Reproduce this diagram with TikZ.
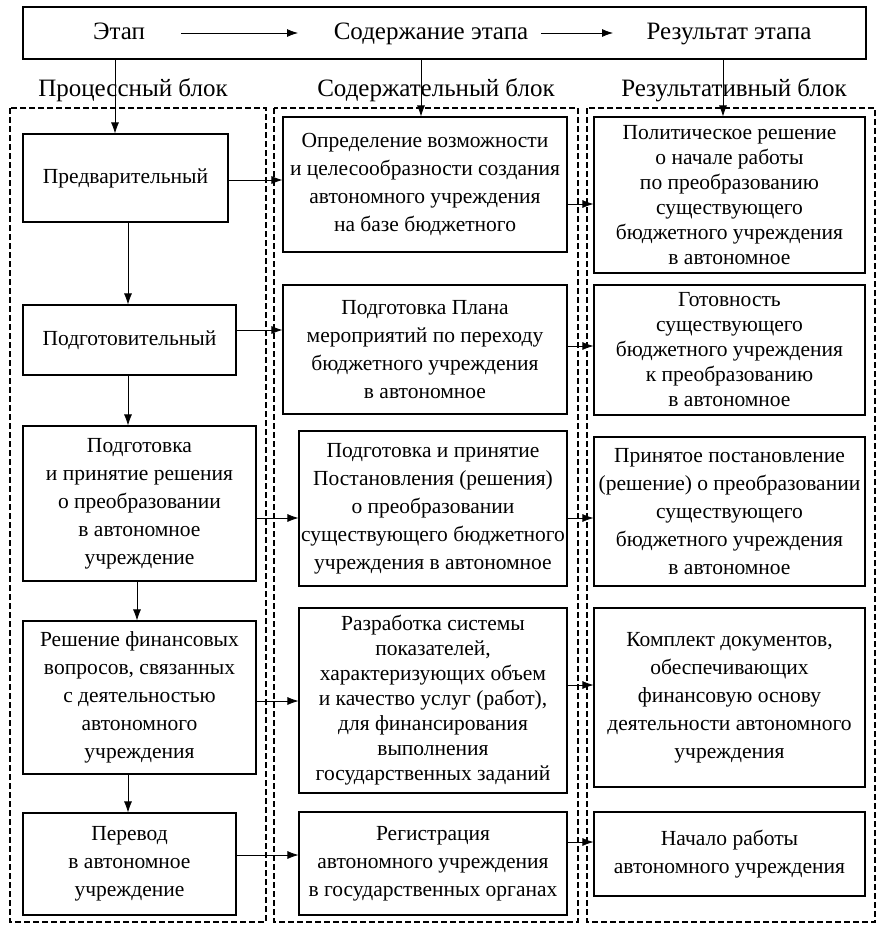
\documentclass[tikz,border=0pt]{standalone}
\usepackage{fontspec}
\setmainfont{Liberation Serif}
\usetikzlibrary{arrows.meta}
\begin{document}
\begin{tikzpicture}[x=1pt,y=-1pt,
  bx/.style={draw, line width=1.1pt, inner sep=0pt, align=center, font=\fontsize{21.5}{28}\selectfont},
  tight/.style={font=\fontsize{21.5}{25}\selectfont},
  toptext/.style={inner sep=0pt, font=\fontsize{25}{30}\selectfont},
  arr/.style={line width=0.75pt, -{Latex[length=11pt,width=8pt]}},
  cont/.style={draw, line width=1.3pt, dash pattern=on 6pt off 3pt}]
\useasboundingbox (0,0) rectangle (881,930);

% top bar
\node[draw, line width=1.1pt, minimum width=843pt, minimum height=52pt, inner sep=0pt] (top) at (444.5,33) {};
\node[toptext, anchor=base] (t1) at (119,39) {Этап};
\node[toptext, anchor=base] (t2) at (431,39) {Содержание этапа};
\node[toptext, anchor=base] (t3) at (729,39) {Результат этапа};
\coordinate (a1s) at (181,33);
\coordinate (a1e) at (298,33);
\coordinate (a2s) at (541,33);
\coordinate (a2e) at (613,33);
\draw[arr] (a1s) -- (a1e);
\draw[arr] (a2s) -- (a2e);

% block labels
\node[toptext] (lb1) at (133,90) {Процессный блок};
\node[toptext] (lb2) at (436,90) {Содержательный блок};
\node[toptext] (lb3) at (734,90) {Результативный блок};

% dashed containers
\draw[cont] (10,108) rectangle (266,922);
\draw[cont] (274,108) rectangle (578,922);
\draw[cont] (587,108) rectangle (875,922);

% left column
\node[bx, minimum width=205pt, minimum height=88pt] (l1) at (125.5,178) {Предварительный};
\node[bx, minimum width=213pt, minimum height=70pt] (l2) at (129.5,340) {Подготовительный};
\node[bx, minimum width=233pt, minimum height=155pt] (l3) at (139.5,503.5) {Подготовка\\и принятие решения\\о преобразовании\\в автономное\\учреждение};
\node[bx, minimum width=233pt, minimum height=153pt] (l4) at (139.5,697.5) {Решение финансовых\\вопросов, связанных\\с деятельностью\\автономного\\учреждения};
\node[bx, minimum width=213pt, minimum height=102pt] (l5) at (129.5,864) {Перевод\\в автономное\\учреждение};

% middle column
\node[bx, minimum width=284pt, minimum height=135pt] (m1) at (425,184.5) {Определение возможности\\и целесообразности создания\\автономного учреждения\\на базе бюджетного};
\node[bx, minimum width=284pt, minimum height=129pt] (m2) at (425,349.5) {Подготовка Плана\\мероприятий по переходу\\бюджетного учреждения\\в автономное};
\node[bx, minimum width=268pt, minimum height=155pt] (m3) at (433,508.5) {Подготовка и принятие\\Постановления (решения)\\о преобразовании\\существующего бюджетного\\учреждения в автономное};
\node[bx, tight, minimum width=268pt, minimum height=185pt] (m4) at (433,700.5) {Разработка системы\\показателей,\\характеризующих объем\\и качество услуг (работ),\\для финансирования\\выполнения\\государственных заданий};
\node[bx, minimum width=268pt, minimum height=103pt] (m5) at (433,863.5) {Регистрация\\автономного учреждения\\в государственных органах};

% right column
\node[bx, tight, minimum width=271pt, minimum height=156pt] (r1) at (729.5,195) {Политическое решение\\о начале работы\\по преобразованию\\существующего\\бюджетного учреждения\\в автономное};
\node[bx, tight, minimum width=271pt, minimum height=130pt] (r2) at (729.5,350) {Готовность\\существующего\\бюджетного учреждения\\к преобразованию\\в автономное};
\node[bx, minimum width=271pt, minimum height=149pt] (r3) at (729.5,511.5) {Принятое постановление\\(решение) о преобразовании\\существующего\\бюджетного учреждения\\в автономное};
\node[bx, minimum width=271pt, minimum height=179pt] (r4) at (729.5,697.5) {Комплект документов,\\обеспечивающих\\финансовую основу\\деятельности автономного\\учреждения};
\node[bx, minimum width=271pt, minimum height=84pt] (r5) at (729.5,854) {Начало работы\\автономного учреждения};

% vertical arrows from top bar
\coordinate (vx1) at (115,0);
\coordinate (vx2) at (421,0);
\coordinate (vx3) at (723,0);
\draw[arr] (top.south -| vx1) -- (l1.north -| vx1);
\draw[arr] (top.south -| vx2) -- (m1.north -| vx2);
\draw[arr] (top.south -| vx3) -- (r1.north -| vx3);

% left column vertical arrows
\coordinate (cx1) at (128,0);
\coordinate (cx2) at (137,0);
\draw[arr] (l1.south -| cx1) -- (l2.north -| cx1);
\draw[arr] (l2.south -| cx1) -- (l3.north -| cx1);
\draw[arr] (l3.south -| cx2) -- (l4.north -| cx2);
\draw[arr] (l4.south -| cx1) -- (l5.north -| cx1);

% left -> middle
\coordinate (h1) at (0,180);
\coordinate (h2) at (0,330);
\coordinate (h3) at (0,518);
\coordinate (h4) at (0,701);
\coordinate (h5) at (0,855);
\draw[arr] (l1.east |- h1) -- (m1.west |- h1);
\draw[arr] (l2.east |- h2) -- (m2.west |- h2);
\draw[arr] (l3.east |- h3) -- (m3.west |- h3);
\draw[arr] (l4.east |- h4) -- (m4.west |- h4);
\draw[arr] (l5.east |- h5) -- (m5.west |- h5);

% middle -> right
\coordinate (k1) at (0,204);
\coordinate (k2) at (0,346);
\coordinate (k3) at (0,518);
\coordinate (k4) at (0,685);
\coordinate (k5) at (0,842);
\draw[arr] (m1.east |- k1) -- (r1.west |- k1);
\draw[arr] (m2.east |- k2) -- (r2.west |- k2);
\draw[arr] (m3.east |- k3) -- (r3.west |- k3);
\draw[arr] (m4.east |- k4) -- (r4.west |- k4);
\draw[arr] (m5.east |- k5) -- (r5.west |- k5);
\end{tikzpicture}
\end{document}
